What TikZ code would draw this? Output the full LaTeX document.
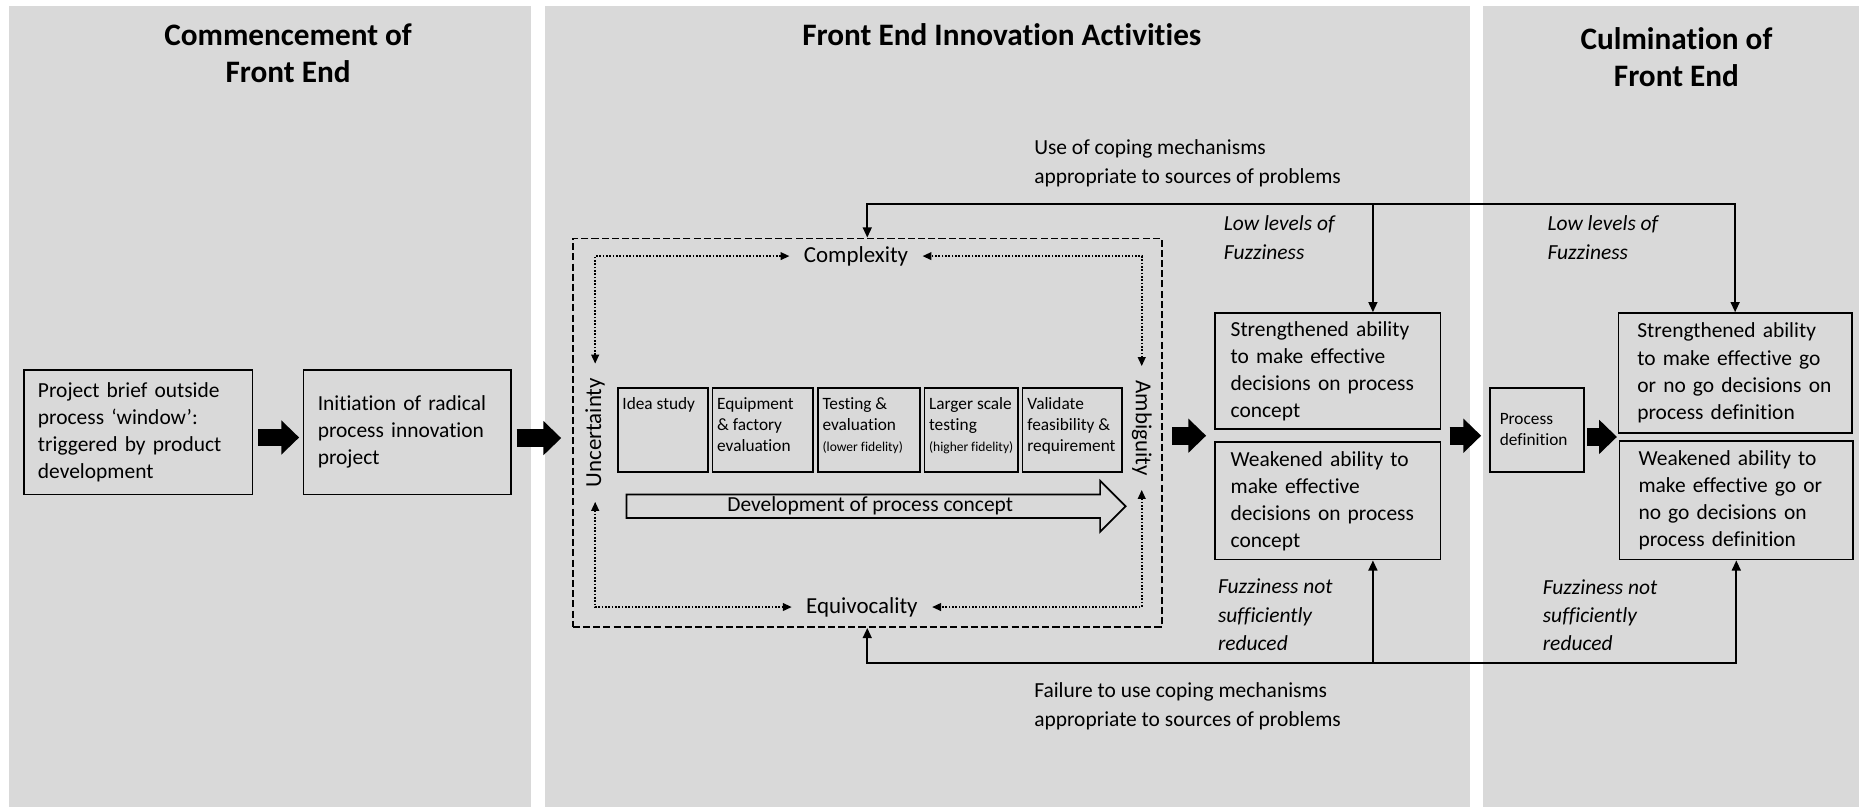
\documentclass[tikz,border=0pt]{standalone}
\usepackage{fontspec}
\setmainfont{Carlito}[Ligatures=NoCommon]
\usetikzlibrary{positioning,arrows.meta,shapes.arrows,calc}
\definecolor{panelgray}{HTML}{D9D9D9}

% stage boxes keep their text at the top
\newcommand{\steptext}[2]{\parbox[c][1.1cm][t]{#1}{\raggedright #2}}
\newcommand{\fid}[1]{{\fontsize{6.5}{8}\selectfont #1}}

\begin{document}
\begin{tikzpicture}[
  x=0.02cm, y=-0.02cm,
  every node/.style={font=\fontsize{10.3}{13}\selectfont},
  panel/.style={fill=panelgray, draw=none},
  title/.style={font=\fontsize{15}{18}\selectfont\bfseries, align=center},
  box/.style={rectangle, draw, line width=0.8pt, align=left, inner xsep=0.24cm},
  stp/.style={rectangle, draw, line width=0.8pt, inner xsep=0.08cm, inner ysep=0pt,
              minimum height=1.42cm, font=\fontsize{8.3}{10.2}\selectfont},
  lbl/.style={align=left, anchor=west, inner sep=0pt, font=\fontsize{10.3}{14}\selectfont},
  fuzz/.style={lbl, font=\fontsize{10.3}{13.6}\selectfont\itshape},
  dim/.style={font=\fontsize{11}{13}\selectfont},
  blk/.style={line width=0.3cm, -{Triangle[length=0.3cm, width=0.56cm]}},
  conn/.style={line width=0.8pt, -{Triangle[length=0.17cm, width=0.15cm]}},
  dotarr/.style={line width=0.8pt, dash pattern=on 0.8pt off 0.8pt,
                 {Triangle[length=0.15cm, width=0.13cm]}-{Triangle[length=0.15cm, width=0.13cm]},
                 shorten <=0.12cm, shorten >=0.12cm}
]
  \fill[white] (0,0) rectangle (1568,681);
  \useasboundingbox (0,0) rectangle (1568,681);

  % three phases
  \fill[panel] (7.5,5) rectangle (448,681);
  \fill[panel] (460,5) rectangle (1240,681);
  \fill[panel] (1251,5) rectangle (1568,681);

  \node[title] (t1) at (243,45) {Commencement of\\Front End};
  \node[title] (t2) at (845,29) {Front End Innovation Activities};
  \node[title] (t3) at (1414,48) {Culmination of\\Front End};

  % commencement
  \node[box, minimum width=3.86cm, minimum height=2.1cm, text width=3.38cm] (brief) at (116.5,364.5)
    {Project brief outside\\process ‘window’:\\triggered by product\\development};
  \node[box, minimum width=3.5cm, minimum height=2.1cm, text width=3.02cm] (init) at (343.5,364.5)
    {Initiation of radical\\process innovation\\project};

  % front end activities
  \node[draw, line width=0.8pt, dash pattern=on 3.4pt off 1.5pt,
        minimum width=9.94cm, minimum height=6.56cm] (frame) at (731.5,365) {};

  \node[dim] (cpx) at (722,216) {Complexity};
  \node[dim] (eqv) at (727,512) {Equivocality};
  \node[dim, rotate=90] (unc) at (502,365) {Uncertainty};
  \node[dim, rotate=-90] (amb) at (963,361) {Ambiguity};

  \draw[dotarr] (unc.east) |- (cpx.west);
  \draw[dotarr] (amb.west) |- (cpx.east);
  \draw[dotarr] (unc.west) |- (eqv.west);
  \draw[dotarr] (amb.east) |- (eqv.east);

  \node[stp] (st1) at (559,362.5) {\steptext{1.36cm}{Idea study}};
  \node[stp, right=0.05cm of st1] (st2) {\steptext{1.54cm}{Equipment\\\& factory\\evaluation}};
  \node[stp, right=0.05cm of st2] (st3) {\steptext{1.56cm}{Testing \&\\evaluation\\\fid{(lower fidelity)}}};
  \node[stp, right=0.05cm of st3] (st4) {\steptext{1.42cm}{Larger scale\\testing\\\fid{(higher fidelity)}}};
  \node[stp, right=0.05cm of st4] (st5) {\steptext{1.52cm}{Validate\\feasibility \&\\requirement}};

  \node[single arrow, draw, line width=0.8pt, fill=panelgray, minimum height=8.42cm,
        minimum width=0.86cm, single arrow head extend=0.22cm, inner xsep=0pt, inner ysep=0.5pt]
    (dev) at (734,427) {Development of process concept};

  \node[box, minimum width=3.8cm, minimum height=1.96cm, text width=3.28cm, inner xsep=0.26cm] (s1) at (1120,313)
    {Strengthened ability\\to make effective\\decisions on process\\concept};
  \node[box, minimum width=3.8cm, minimum height=1.98cm, text width=3.28cm, inner xsep=0.26cm] (w1) at (1120,422.5)
    {Weakened ability to\\make effective\\decisions on process\\concept};

  % culmination
  \node[box, font=\fontsize{8.3}{10}\selectfont, minimum width=1.58cm, minimum height=1.42cm,
        text width=1.26cm, inner xsep=0.16cm] (pdef) at (1296.5,362.5) {Process\\definition};
  \node[box, minimum width=3.94cm, minimum height=2.02cm, text width=3.3cm, inner xsep=0.32cm] (s2) at (1463.5,314.5)
    {Strengthened ability\\to make effective go\\or no go decisions on\\process definition};
  \node[box, minimum width=3.94cm, minimum height=2.0cm, text width=3.3cm, inner xsep=0.32cm] (w2) at (1464.5,422)
    {Weakened ability to\\make effective go or\\no go decisions on\\process definition};

  % flow between stages
  \coordinate (cmid) at ($(s1.south west)!0.5!(w1.north west)$);
  \coordinate (dmid) at ($(s2.south west)!0.5!(w2.north west)$);
  \draw[blk, shorten <=0.08cm, shorten >=0.06cm] ([yshift=-0.09cm]brief.east) -- ([yshift=-0.09cm]init.west);
  \draw[blk, shorten <=0.08cm, shorten >=0.18cm] ([yshift=-0.1cm]init.east) -- ([yshift=-0.1cm]init.east -| frame.west);
  \draw[blk, shorten <=0.16cm, shorten >=0.14cm] (frame.east |- cmid) -- (cmid);
  \draw[blk, shorten <=0.14cm, shorten >=0.14cm] (cmid -| s1.east) -- (cmid -| pdef.west);
  \draw[blk, shorten <=0.04cm, shorten >=0.02cm] (dmid -| pdef.east) -- (dmid);

  % coping mechanisms feedback
  \coordinate (jtop) at (1158,172);
  \coordinate (jbot) at (1158,559);
  \draw[conn] (jtop) -| (frame.north);
  \draw[conn] (jtop) -- (jtop |- s1.north);
  \draw[conn] (jtop) -| (s2.north);
  \draw[conn] (jbot) -| (frame.south);
  \draw[conn] (jbot) -- (jbot |- w1.south);
  \draw[conn] (jbot) -| (w2.south);

  \node[lbl] (usecope) at (872,137.5) {Use of coping mechanisms\\appropriate to sources of problems};
  \node[lbl] (fail) at (872,595.5) {Failure to use coping mechanisms\\appropriate to sources of problems};
  \node[fuzz] (low1) at (1032,200.5) {Low levels of\\Fuzziness};
  \node[fuzz] (low2) at (1305,200.5) {Low levels of\\Fuzziness};
  \node[fuzz] (nred1) at (1027,518.5) {Fuzziness not\\sufficiently\\reduced};
  \node[fuzz] (nred2) at (1301,519) {Fuzziness not\\sufficiently\\reduced};
\end{tikzpicture}
\end{document}
